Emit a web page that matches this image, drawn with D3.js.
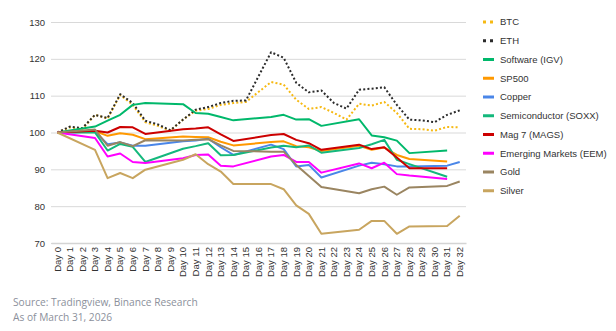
<!DOCTYPE html>
<html lang="en">
    <head>
        <meta charset="utf-8">
        <title>Asset performance</title>
        <script src="https://d3js.org/d3.v7.min.js"></script>
        <style>
            body { margin: 0; background: #fff; }
            .tick text { font-family: "Liberation Sans", Arial, sans-serif; font-size: 9.5px; fill: #333; }
            .legend text { font-family: "Liberation Sans", Arial, sans-serif; font-size: 9.5px; fill: #333; }
            .source { font-family: "Open Sans", sans-serif; font-size: 10.2px; fill: #8b909b; }
        </style>
    </head>
    <body>
        <script>
            // Day labels (Day 0 .. Day 32)
            var days = ["Day 0", "Day 1", "Day 2", "Day 3", "Day 4", "Day 5", "Day 6", "Day 7", "Day 8", "Day 9",
                "Day 10", "Day 11", "Day 12", "Day 13", "Day 14", "Day 15", "Day 16", "Day 17", "Day 18", "Day 19",
                "Day 20", "Day 21", "Day 22", "Day 23", "Day 24", "Day 25", "Day 26", "Day 27", "Day 28", "Day 29",
                "Day 30", "Day 31", "Day 32"];
            var yTicks = [70, 80, 90, 100, 110, 120, 130];

            // rebased to 100, null = no data that day (line joins over the gap)
            var btc = [100, 101.4, 101, 104.8, 103.8, 110.2, 107.5, 102.8, 101.8, 100.5, 103.5, 105.9, 106.4, 107.5, 108, 108.3, null,
                113.7, 113, 108.9, 106.4, 106.9, 105.3, 103.5, 107.8, 107.3, 108.3, 105.3, 101, 100.9, 100.5, 101.5, 101.4];
            var eth = [100, 101.6, 101.2, 104.8, 103.9, 110.4, 108, 103.2, 102.2, 100.6, 103.5, 106.2, 106.9, 108, 108.6, 108.7, null,
                121.8, 120.3, 113.5, 110.9, 111.4, 108, 106.5, 111.6, 111.9, 112.3, 107.5, 103.5, 103.3, 102.8, 104.8, 106];
            var software = [100, null, null, 101.6, 103.2, 104.8, 107.5, 108, null, null, 107.7, 105.3, 105.1, 104.2, 103.3, null, null,
                104.2, 104.8, 103.5, 103.6, 101.8, null, null, 103.6, 99.2, 98.7, 97.8, 94.4, null, null, 95.1, null];
            var sp500 = [100, null, null, 100.4, 99.1, 99.8, 99.4, 98.2, null, null, 98.9, 98.8, 98.7, 97.5, 96.5, null, null,
                97.4, 97.6, 96.3, 96, 95, null, null, 96.4, 95.3, 95.9, 93.9, 92.8, null, null, 92.1, null];
            var copper = [100, null, null, 100.2, 96.8, 97.3, 96.4, 96.4, null, null, 97.6, 97.8, 98.3, 96, 93.9, null, null,
                96.7, 95.5, 90.8, 91.2, 87.8, null, null, 91, 91.8, 91.4, 90.8, 90.8, null, null, 91, 92];
            var semis = [100, null, null, 100, 95.1, 96.9, 96.1, 92, null, null, 95.6, 96.3, 97.1, 93.8, 93.9, null, null,
                95.9, 96.4, 96, 96.5, 94.5, null, null, 95.8, 96.8, 98, 92.6, 91.4, null, null, 88, null];
            var mag7 = [100, null, null, 100.5, 100, 101.5, 101.4, 99.6, null, null, 100.9, 101.1, 101.4, 99.5, 97.7, null, null,
                99.3, 99.6, 98, 97.1, 95.3, null, null, 96.7, 95.5, 96, 93.2, 90.3, null, null, 90.3, null];
            var eem = [100, null, null, 98.5, 93.5, 94.3, 92, 91.7, null, null, 93, 93.9, 94, 91, 90.8, null, null,
                93.5, 93.9, 92, 92, 89.1, null, null, 91.6, 90.3, 91.8, 88.7, 88.3, null, null, 87.4, null];
            var gold = [100, null, null, 100.8, 96.4, 97.4, 96.3, 97.9, null, null, 97.8, 98, 98.2, 96.5, 95, null, null,
                94.8, 94.8, 91.2, 88.2, 85.2, null, null, 83.5, 84.6, 85.3, 83.1, 85.1, null, null, 85.5, 86.7];
            var silver = [100, null, null, 95.3, 87.6, 89, 87.6, 89.9, null, null, 92.6, 94.1, 91.4, 89.4, 86, null, null,
                86, 84.6, 80.2, 77.9, 72.5, null, null, 73.6, 76, 76, 72.5, 74.5, null, null, 74.6, 77.4];

            var seriesNames = ["BTC", "ETH", "Software (IGV)", "SP500", "Copper", "Semiconductor (SOXX)",
                "Mag 7 (MAGS)", "Emerging Markets (EEM)", "Gold", "Silver"];
            var seriesValues = [btc, eth, software, sp500, copper, semis, mag7, eem, gold, silver];
            var seriesColors = ["#f6b913", "#2b2b2b", "#00b86b", "#ff9900", "#4a86e8", "#14b87c",
                "#cc0000", "#ff00ff", "#9a8561", "#c8a55f"];
            var dotted = [true, true, false, false, false, false, false, false, false, false];

            var svg = d3.select("body").append("svg").attr("width", 616).attr("height", 331);
            var plot = {x0: 51, x1: 466, y0: 22, y1: 243};   // plot box

            var x = d3.scaleBand().domain(days).range([plot.x0, plot.x1]);
            var y = d3.scaleLinear().domain([70, 130]).range([plot.y1, plot.y0]);
            var cx = function(i) { return x(days[i]) + x.bandwidth() / 2; };

            // gridlines + y labels
            var yAxis = svg.append("g")
                .attr("transform", "translate(" + plot.x0 + ",0)")
                .call(d3.axisLeft(y).tickValues(yTicks).tickSize(-(plot.x1 - plot.x0)).tickPadding(6));
            yAxis.select(".domain").remove();
            yAxis.selectAll(".tick line").attr("stroke", "#d9d9d9");

            // x axis, labels turned up
            var xAxis = svg.append("g")
                .attr("transform", "translate(0," + plot.y1 + ")")
                .call(d3.axisBottom(x).tickSize(0));
            xAxis.select(".domain").attr("stroke", "#d4d4d4").attr("stroke-width", 1.5);
            xAxis.selectAll(".tick text")
                .attr("text-anchor", "end")
                .attr("transform", "translate(0,4) rotate(-90)")
                .attr("x", 0).attr("y", 0).attr("dy", "0.35em");

            var line = d3.line()
                .x(function(d) { return cx(d.i); })
                .y(function(d) { return y(d.v); });

            seriesValues.forEach(function(vals, k) {
                var pts = vals.map(function(v, i) { return {i: i, v: v}; })
                    .filter(function(d) { return d.v !== null; });
                svg.append("path")
                    .datum(pts)
                    .attr("fill", "none")
                    .attr("stroke", seriesColors[k])
                    .attr("stroke-width", 2)
                    .attr("stroke-linejoin", "round")
                    .attr("stroke-dasharray", dotted[k] ? "2,2.2" : null)
                    .attr("d", line);
            });

            // legend
            var legend = svg.append("g").attr("class", "legend");
            seriesNames.forEach(function(name, k) {
                var ly = 22 + k * 18.75;
                legend.append("line")
                    .attr("x1", 483).attr("x2", 494)
                    .attr("y1", ly).attr("y2", ly)
                    .attr("stroke", seriesColors[k])
                    .attr("stroke-width", 3)
                    .attr("stroke-dasharray", dotted[k] ? "3,4" : null);
                legend.append("text")
                    .attr("x", 500).attr("y", ly).attr("dy", "0.35em")
                    .text(name);
            });

            svg.append("text").attr("class", "source").attr("x", 13).attr("y", 306)
                .text("Source: Tradingview, Binance Research");
            svg.append("text").attr("class", "source").attr("x", 13).attr("y", 321)
                .text("As of March 31, 2026");
        </script>
    </body>
</html>
